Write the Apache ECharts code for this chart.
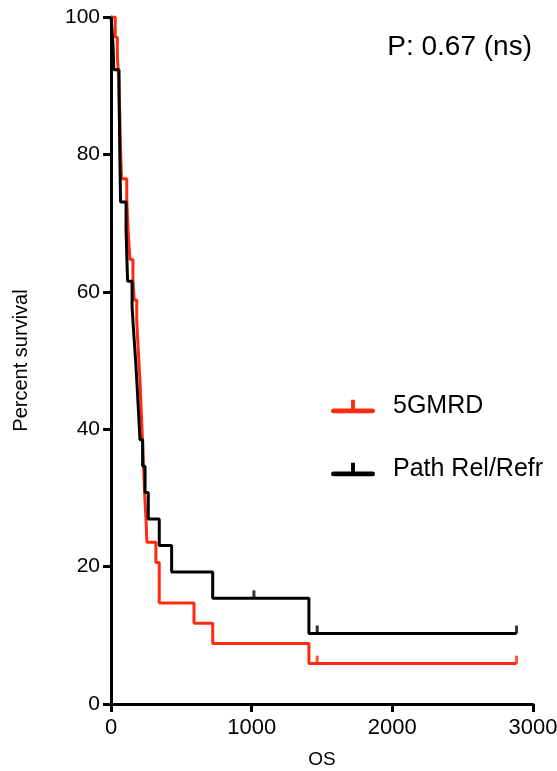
<!DOCTYPE html>
<html>
<head>
<meta charset="utf-8">
<script src="https://cdn.jsdelivr.net/npm/echarts@6/dist/echarts.min.js"></script>
<style>html,body{margin:0;padding:0;background:#fff;}#c{width:557px;height:771px;}</style>
</head>
<body>
<div id="c"></div>
<script>
// Kaplan-Meier step points (time in days, percent survival)
const redTimes = [0, 30, 45, 55, 60, 63, 66, 70, 75, 112, 118, 125, 135, 156, 165, 183, 190, 198, 206, 212, 218, 224, 230, 236, 242, 250, 255, 319, 343, 590, 723, 1407, 2883];
const redSurv  = [100, 97.06, 94.12, 91.18, 88.24, 85.29, 82.35, 79.41, 76.47, 73.53, 70.59, 67.65, 64.71, 61.76, 58.82, 55.88, 52.94, 50.00, 47.06, 44.12, 41.18, 38.24, 35.29, 32.35, 29.41, 26.47, 23.53, 20.59, 14.71, 11.76, 8.82, 5.88, 5.88];
const blackTimes = [0, 14, 20, 57, 60, 62, 65, 68, 107, 112, 118, 150, 162, 175, 186, 196, 206, 225, 242, 265, 343, 431, 723, 1407, 2883];
const blackSurv  = [100, 96.15, 92.31, 88.46, 84.62, 80.77, 76.92, 73.08, 69.23, 65.38, 61.54, 57.69, 53.85, 50.00, 46.15, 42.31, 38.46, 34.62, 30.77, 26.92, 23.08, 19.23, 15.38, 10.26, 10.26];
const redCensorTimes = [1466, 2883];
const redCensorSurv  = [5.88, 5.88];
const blackCensorTimes = [1016, 1466, 2883];
const blackCensorSurv  = [15.38, 10.26, 10.26];
const xTicks = [0, 1000, 2000, 3000];
const yTicks = [0, 20, 40, 60, 80, 100];
const seriesNames = ['5GMRD', 'Path Rel/Refr'];
const pText = 'P: 0.67 (ns)';

const RED = '#ff2a10';
const BLACK = '#000000';
const FONT = 'Liberation Sans, Arial, Helvetica, sans-serif';
const zip = (a, b) => a.map((v, i) => [v, b[i]]);
const legendIcon = 'path://M2,9 L42,9 A2.5,2.5 0 0 1 42,14 L2,14 A2.5,2.5 0 0 1 2,9 Z M20,0 L24,0 L24,10 L20,10 Z';

const chart = echarts.init(document.getElementById('c'), null, {renderer: 'canvas'});
chart.setOption({
  animation: false,
  backgroundColor: '#ffffff',
  title: {
    text: pText, right: 20, top: 28,
    textStyle: {fontFamily: FONT, fontSize: 28, fontWeight: 'normal', color: '#000'}
  },
  legend: {
    orient: 'vertical', left: 326, top: 389, itemWidth: 44, itemHeight: 14, itemGap: 38,
    data: seriesNames.map(n => ({name: n, icon: legendIcon})),
    textStyle: {fontFamily: FONT, fontSize: 25, color: '#000', padding: [4, 0, 0, 13]}
  },
  grid: {left: 111, right: 24, top: 17, bottom: 67, containLabel: false, outerBoundsMode: 'none'},
  xAxis: {
    type: 'value', min: xTicks[0], max: xTicks[xTicks.length - 1], interval: 1000,
    name: 'OS', nameLocation: 'middle', nameGap: 46,
    nameTextStyle: {fontFamily: FONT, fontSize: 19, color: '#000'},
    axisLine: {show: true, onZero: false, lineStyle: {color: '#000', width: 3}},
    axisTick: {show: true, length: 8, lineStyle: {color: '#000', width: 3}},
    axisLabel: {fontFamily: FONT, fontSize: 22, color: '#000', margin: 13, formatter: v => String(v)},
    splitLine: {show: false}
  },
  yAxis: {
    type: 'value', min: yTicks[0], max: yTicks[yTicks.length - 1], interval: 20,
    name: 'Percent survival', nameLocation: 'middle', nameGap: 80,
    nameTextStyle: {fontFamily: FONT, fontSize: 20, color: '#000'},
    axisLine: {show: true, onZero: false, lineStyle: {color: '#000', width: 3}},
    axisTick: {show: true, length: 8, lineStyle: {color: '#000', width: 3}},
    axisLabel: {fontFamily: FONT, fontSize: 21, color: '#000', margin: 11, formatter: v => String(v)},
    splitLine: {show: false}
  },
  series: [
    {
      name: seriesNames[0], type: 'line', step: 'end', data: zip(redTimes, redSurv),
      showSymbol: false, symbol: 'none', color: RED,
      lineStyle: {color: RED, width: 3}, z: 2
    },
    {
      name: seriesNames[1], type: 'line', step: 'end', data: zip(blackTimes, blackSurv),
      showSymbol: false, symbol: 'none', color: BLACK,
      lineStyle: {color: BLACK, width: 3}, z: 3
    },
    {
      name: 'redCensor', type: 'scatter', data: zip(redCensorTimes, redCensorSurv),
      symbol: 'rect', symbolSize: [3, 8], symbolOffset: [0, -4],
      itemStyle: {color: RED}, z: 2
    },
    {
      name: 'blackCensor', type: 'scatter', data: zip(blackCensorTimes, blackCensorSurv),
      symbol: 'rect', symbolSize: [3, 8], symbolOffset: [0, -4],
      itemStyle: {color: BLACK}, z: 3
    }
  ]
});
</script>
</body>
</html>
